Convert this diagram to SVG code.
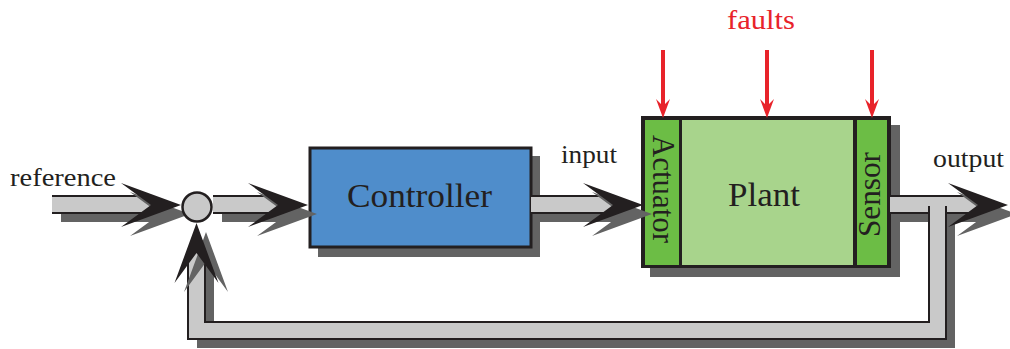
<svg xmlns="http://www.w3.org/2000/svg" width="1010" height="349" viewBox="0 0 1010 349">
<defs>
<style>
.lbl{font-family:"Liberation Serif","Times New Roman",serif;fill:#231f20}
.shadow{fill:#636363}
.pipe{fill:#c9c9c9}
.edge{fill:none;stroke:#231f20;stroke-width:2}
.box{stroke:#231f20;stroke-width:3}
.ah{fill:#231f20}
.fault{stroke:#e8232a;stroke-width:4}
.faultHead{fill:#e8232a}
</style>
<path id="ah" d="M0,0 L-60,-22 L-30,0 L-60,22 Z"/>
<path id="fh" d="M0,0 L-7,-19 L0,-12 L7,-19 Z"/>
</defs>
<rect width="1010" height="349" fill="#ffffff"/>

<g id="controller">
<rect class="shadow" x="318" y="156" width="222" height="101"/>
<rect class="box" x="310" y="148" width="221" height="99" fill="#4f8dcb"/>
<text class="lbl" x="419.5" y="207" font-size="33" text-anchor="middle" textLength="145" lengthAdjust="spacingAndGlyphs">Controller</text>
</g>

<g id="plant">
<rect class="shadow" x="650" y="125" width="250" height="152"/>
<rect x="641" y="116" width="250" height="152" fill="#231f20"/>
<rect x="645" y="120" width="34" height="145" fill="#6cbd45"/>
<rect x="682" y="120" width="171" height="145" fill="#a8d48c"/>
<rect x="857" y="120" width="30" height="145" fill="#6cbd45"/>
<text class="lbl" x="764" y="206" font-size="33" text-anchor="middle" textLength="72" lengthAdjust="spacingAndGlyphs">Plant</text>
<text class="lbl" transform="translate(653,189) rotate(90)" font-size="32" text-anchor="middle" textLength="108" lengthAdjust="spacingAndGlyphs">Actuator</text>
<text class="lbl" transform="translate(880,194.5) rotate(-90)" font-size="32" text-anchor="middle" textLength="85" lengthAdjust="spacingAndGlyphs">Sensor</text>
</g>

<g id="faults">
<text x="761" y="29" font-family="Liberation Serif, Times New Roman, serif" font-size="28" fill="#e8232a" text-anchor="middle" textLength="68" lengthAdjust="spacingAndGlyphs">faults</text>
<line class="fault" x1="663" y1="50" x2="663" y2="108"/>
<use href="#fh" class="faultHead" transform="translate(663,118)"/>
<line class="fault" x1="767" y1="50" x2="767" y2="108"/>
<use href="#fh" class="faultHead" transform="translate(767,118)"/>
<line class="fault" x1="872" y1="50" x2="872" y2="108"/>
<use href="#fh" class="faultHead" transform="translate(872,118)"/>
</g>

<g id="labels">
<text class="lbl" x="10" y="186" font-size="26" textLength="106" lengthAdjust="spacingAndGlyphs">reference</text>
<text class="lbl" x="561" y="163" font-size="26" textLength="56" lengthAdjust="spacingAndGlyphs">input</text>
<text class="lbl" x="933" y="167" font-size="26" textLength="71" lengthAdjust="spacingAndGlyphs">output</text>
</g>

<g id="connectors">
<!-- shadows -->
<rect class="shadow" x="61" y="205" width="99" height="17"/>
<rect class="shadow" x="222" y="205" width="65" height="17"/>
<rect class="shadow" x="540" y="205" width="82" height="17"/>
<rect class="shadow" x="899" y="205" width="88" height="17"/>
<path class="shadow" d="M197,262 V348 H955 V215 H938 V331 H214 V262 Z"/>
<!-- pipes -->
<rect class="pipe" x="52" y="196" width="99" height="17"/>
<path class="edge" d="M52,196 H151 M52,213 H151"/>
<rect class="pipe" x="213" y="196" width="65" height="17"/>
<path class="edge" d="M213,196 H278 M213,213 H278"/>
<rect class="pipe" x="531" y="196" width="82" height="17"/>
<path class="edge" d="M531,196 H613 M531,213 H613"/>
<rect class="pipe" x="890" y="196" width="88" height="17"/>
<path class="edge" d="M890,196 H978 M890,213 H978"/>
<path class="pipe" d="M188,253 V339 H946 V206 H929 V322 H205 V253 Z"/>
<path class="edge" d="M188,253 V339 H946 V206 M205,253 V322 H929 V206"/>
<!-- arrowheads -->
<use href="#ah" class="shadow" transform="translate(190,214)"/>
<use href="#ah" class="ah" transform="translate(181,205)"/>
<use href="#ah" class="shadow" transform="translate(317,214)"/>
<use href="#ah" class="ah" transform="translate(308,205)"/>
<use href="#ah" class="shadow" transform="translate(652,214)"/>
<use href="#ah" class="ah" transform="translate(643,205)"/>
<use href="#ah" class="shadow" transform="translate(1017,214)"/>
<use href="#ah" class="ah" transform="translate(1008,205)"/>
<use href="#ah" class="shadow" transform="translate(206,232) rotate(-90)"/>
<use href="#ah" class="ah" transform="translate(196.5,223) rotate(-90)"/>
</g>

<g id="sum">
<circle cx="197" cy="207" r="14.5" fill="#c9c9c9" stroke="#231f20" stroke-width="2.5"/>
</g>
</svg>
